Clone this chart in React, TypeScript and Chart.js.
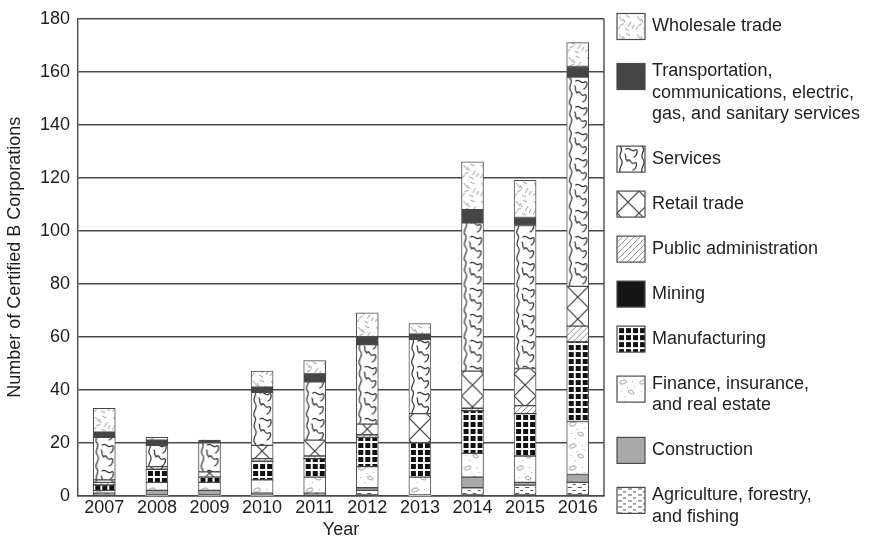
import React, { useEffect, useRef } from 'react';
import { Chart, registerables } from 'chart.js';

Chart.register(...registerables);

// ---------- DATA (stack order: bottom -> top) ----------
const years = ['2007', '2008', '2009', '2010', '2011', '2012', '2013', '2014', '2015', '2016'];

const agriculture = [1, 0, 0, 0, 1, 2, 0, 3, 4, 5];
const construction = [0, 2, 2, 1, 0, 1, 0, 4, 1, 3];
const finance = [1, 3, 3, 5, 6, 8, 7, 9, 10, 20];
const manufacturing = [2, 5, 2, 7, 7, 11, 13, 16, 16, 30];
const mining = [0, 0, 0, 0, 0, 0, 0, 0, 0, 0];
const publicAdmin = [1, 0, 0, 1, 1, 1, 0, 1, 3, 6];
const retail = [1, 1, 2, 5, 6, 4, 11, 14, 14, 15];
const services = [16, 8, 11, 20, 22, 30, 28, 56, 54, 79];
const transportation = [2, 2, 1, 2, 3, 3, 2, 5, 3, 4];
const wholesale = [9, 1, 0, 6, 5, 9, 4, 18, 14, 9];

const yTicks = [0, 20, 40, 60, 80, 100, 120, 140, 160, 180];

// legend order (top -> bottom), with line breaks as in the reference
const legendLines: string[][] = [
  ['Wholesale trade'],
  ['Transportation,', 'communications, electric,', 'gas, and sanitary services'],
  ['Services'],
  ['Retail trade'],
  ['Public administration'],
  ['Mining'],
  ['Manufacturing'],
  ['Finance, insurance,', 'and real estate'],
  ['Construction'],
  ['Agriculture, forestry,', 'and fishing'],
];

type PatKey =
  | 'agri' | 'constr' | 'fin' | 'manuf' | 'mining' | 'public' | 'retail' | 'services' | 'transport' | 'wholesale';

const series: { key: PatKey; data: number[]; legendIndex: number }[] = [
  { key: 'agri', data: agriculture, legendIndex: 9 },
  { key: 'constr', data: construction, legendIndex: 8 },
  { key: 'fin', data: finance, legendIndex: 7 },
  { key: 'manuf', data: manufacturing, legendIndex: 6 },
  { key: 'mining', data: mining, legendIndex: 5 },
  { key: 'public', data: publicAdmin, legendIndex: 4 },
  { key: 'retail', data: retail, legendIndex: 3 },
  { key: 'services', data: services, legendIndex: 2 },
  { key: 'transport', data: transportation, legendIndex: 1 },
  { key: 'wholesale', data: wholesale, legendIndex: 0 },
];

const FONT = '"Liberation Sans", Arial, Helvetica, sans-serif';
const TEXT = '#1e1e1e';
const LINE = '#4a4a4a';
const BAR_W = 22;

// ---------- PATTERNS ----------
const solid: Partial<Record<PatKey, string>> = {
  constr: '#a9a9a9',
  mining: '#151515',
  transport: '#454545',
};

const tiles: Partial<Record<PatKey, HTMLCanvasElement>> = {};

function mkTile(w: number, h: number, draw: (g: CanvasRenderingContext2D) => void) {
  const c = document.createElement('canvas');
  c.width = w;
  c.height = h;
  const g = c.getContext('2d')!;
  g.fillStyle = '#fff';
  g.fillRect(0, 0, w, h);
  draw(g);
  return c;
}

function getTile(key: PatKey): HTMLCanvasElement {
  if (tiles[key]) return tiles[key]!;
  let t: HTMLCanvasElement;
  switch (key) {
    case 'services':
      t = mkTile(22, 26, (g) => {
        g.strokeStyle = '#2e2e2e';
        g.lineWidth = 1.2;
        g.lineCap = 'round';
        g.beginPath();
        // meandering vertical worm (wraps top/bottom)
        g.moveTo(3, 0);
        g.bezierCurveTo(8, 4, 0, 8, 4, 13);
        g.bezierCurveTo(8, 18, 1, 21, 3, 26);
        // worm 1
        g.moveTo(9, 3);
        g.bezierCurveTo(12, 0, 15, 7, 18, 4);
        g.bezierCurveTo(21, 2, 21, 9, 17, 11);
        // worm 2
        g.moveTo(10, 15);
        g.bezierCurveTo(14, 11, 13, 19, 17, 17);
        g.bezierCurveTo(21, 15, 20, 22, 16, 24);
        // small curl
        g.moveTo(8, 8);
        g.bezierCurveTo(10, 11, 7, 12, 10, 14);
        g.stroke();
      });
      break;
    case 'wholesale':
      t = mkTile(18, 18, (g) => {
        g.strokeStyle = '#9a9a9a';
        g.lineWidth = 1;
        const segs = [
          [2, 3, 6, 8], [9, 2, 13, 4], [14, 8, 11, 13], [3, 12, 7, 10],
          [8, 15, 12, 17], [15, 15, 17, 11], [6, 5, 8, 9], [1, 16, 3, 13],
        ];
        g.beginPath();
        for (const s of segs) {
          g.moveTo(s[0], s[1]);
          g.lineTo(s[2], s[3]);
        }
        g.stroke();
      });
      break;
    case 'retail':
      t = mkTile(22, 22, (g) => {
        g.strokeStyle = '#3a3a3a';
        g.lineWidth = 1.2;
        g.beginPath();
        g.moveTo(0, 0);
        g.lineTo(22, 22);
        g.moveTo(22, 0);
        g.lineTo(0, 22);
        g.stroke();
      });
      break;
    case 'public':
      t = mkTile(6, 6, (g) => {
        g.strokeStyle = '#8a8a8a';
        g.lineWidth = 1;
        g.beginPath();
        g.moveTo(0, 6);
        g.lineTo(6, 0);
        g.moveTo(-1, 1);
        g.lineTo(1, -1);
        g.moveTo(5, 7);
        g.lineTo(7, 5);
        g.stroke();
      });
      break;
    case 'manuf':
      t = mkTile(7, 7, (g) => {
        g.fillStyle = '#111';
        g.fillRect(2, 2, 5, 5);
      });
      break;
    case 'fin':
      t = mkTile(20, 22, (g) => {
        g.strokeStyle = '#9a9a9a';
        g.lineWidth = 1;
        g.beginPath();
        g.ellipse(6, 6, 3.5, 1.8, -0.3, 0, Math.PI * 2);
        g.stroke();
        g.beginPath();
        g.ellipse(14, 16, 3, 1.6, 0.4, 0, Math.PI * 2);
        g.stroke();
        g.fillStyle = '#a5a5a5';
        for (const p of [[15, 5], [4, 15], [10, 11], [17, 10], [8, 20]]) g.fillRect(p[0], p[1], 1, 1);
      });
      break;
    case 'agri':
    default:
      t = mkTile(10, 6, (g) => {
        g.fillStyle = '#555';
        g.fillRect(1, 1, 4, 1);
        g.fillRect(6, 4, 3, 1);
      });
      break;
  }
  tiles[key] = t;
  return t;
}

function fillFor(ctx: CanvasRenderingContext2D, key: PatKey, offX: number, offY: number): string | CanvasPattern {
  if (solid[key]) return solid[key]!;
  const p = ctx.createPattern(getTile(key), 'repeat')!;
  if (p && isFinite(offX) && isFinite(offY)) {
    p.setTransform(new DOMMatrix([1, 0, 0, 1, offX, offY]));
  }
  return p;
}

// ---------- PLUGINS ----------
const framePlugin = {
  id: 'frameRight',
  beforeDatasetsDraw(chart: any) {
    const { ctx, chartArea } = chart;
    ctx.save();
    ctx.strokeStyle = LINE;
    ctx.lineWidth = 1.4;
    ctx.beginPath();
    ctx.moveTo(chartArea.right, chartArea.top);
    ctx.lineTo(chartArea.right, chartArea.bottom);
    ctx.stroke();
    ctx.restore();
  },
};

const legendPlugin = {
  id: 'patternLegend',
  afterDraw(chart: any) {
    const { ctx, chartArea } = chart;
    const boxX = chartArea.right + 13;
    const textX = boxX + 35;
    let y = 26.5;
    ctx.save();
    ctx.font = `18px ${FONT}`;
    ctx.textBaseline = 'middle';
    ctx.textAlign = 'left';
    for (let i = 0; i < legendLines.length; i++) {
      const lines = legendLines[i];
      const s = series.find((q) => q.legendIndex === i)!;
      const boxTop = lines.length > 1 ? y - 8 : y - 13;
      ctx.fillStyle = fillFor(ctx, s.key, boxX, boxTop);
      ctx.fillRect(boxX, boxTop, 28, 26);
      ctx.strokeStyle = LINE;
      ctx.lineWidth = 1.2;
      ctx.strokeRect(boxX, boxTop, 28, 26);
      ctx.fillStyle = TEXT;
      lines.forEach((ln, k) => ctx.fillText(ln, textX, y + k * 21.3));
      y += (lines.length - 1) * 21.3 + 45;
    }
    ctx.restore();
  },
};

const seriesLabel = (i: number) => legendLines[i].join(' ');

export default function App() {
  const ref = useRef<HTMLCanvasElement | null>(null);

  useEffect(() => {
    document.body.style.margin = '0';
    const canvas = ref.current;
    if (!canvas) return;

    const datasets = series.map((s) => ({
      label: seriesLabel(s.legendIndex),
      data: s.data,
      stack: 'all',
      barThickness: BAR_W,
      borderColor: LINE,
      borderWidth: (c: any) => (c.raw ? 1 : 0),
      borderSkipped: false,
      backgroundColor: (c: any) => {
        const chart = c.chart;
        const xs = chart.scales && chart.scales.x;
        let off = 0;
        if (xs && typeof c.dataIndex === 'number') {
          const px = xs.getPixelForValue(c.dataIndex);
          if (isFinite(px)) off = px - BAR_W / 2;
        }
        return fillFor(chart.ctx, s.key, off, 0);
      },
    }));

    const chart = new Chart(canvas, {
      type: 'bar',
      data: { labels: years, datasets },
      plugins: [framePlugin, legendPlugin],
      options: {
        animation: false,
        responsive: true,
        maintainAspectRatio: false,
        layout: { padding: { top: 18, right: 266, bottom: 0, left: 0 } },
        plugins: { legend: { display: false }, tooltip: { enabled: false } },
        scales: {
          x: {
            stacked: true,
            grid: { display: false, drawTicks: false },
            border: { display: true, color: LINE, width: 1.4 },
            ticks: { color: TEXT, font: { family: FONT, size: 18 }, padding: 2, maxRotation: 0 },
            title: {
              display: true,
              text: 'Year',
              color: TEXT,
              font: { family: FONT, size: 18, lineHeight: 1 },
              padding: { top: 0, bottom: -1 },
            },
            afterFit: (scale: any) => {
              scale.height = 42.3;
            },
          },
          y: {
            stacked: true,
            min: 0,
            max: 180,
            afterBuildTicks: (scale: any) => {
              scale.ticks = yTicks.map((v) => ({ value: v }));
            },
            grid: { color: LINE, lineWidth: 1.4, drawTicks: false },
            border: { display: true, color: LINE, width: 1.4 },
            ticks: { color: TEXT, font: { family: FONT, size: 18 }, padding: 8 },
            title: {
              display: true,
              text: 'Number of Certified B Corporations',
              color: TEXT,
              font: { family: FONT, size: 18 },
              padding: { top: 4, bottom: 0 },
            },
            afterFit: (scale: any) => {
              scale.width = 78;
            },
          },
        },
      },
    });

    return () => chart.destroy();
  }, []);

  return (
    <div style={{ width: 870, height: 538, position: 'relative', background: '#fff' }}>
      <canvas ref={ref} />
    </div>
  );
}
